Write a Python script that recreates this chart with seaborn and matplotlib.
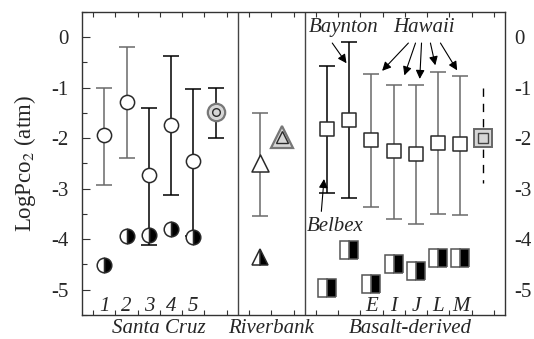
import numpy as np
import pandas as pd
import matplotlib
matplotlib.use("Agg")
import matplotlib.pyplot as plt
from matplotlib.ticker import MultipleLocator, FixedLocator, NullFormatter
from matplotlib.transforms import blended_transform_factory
import seaborn as sns

# ---------------- data ----------------
# Santa Cruz (soils 1-5) + average
sc_x = [1, 2, 3, 4, 5]
sc_labels = ["1", "2", "3", "4", "5"]
sc_mean = [-1.93, -1.28, -2.74, -1.74, -2.46]
sc_hi = [-1.00, -0.20, -1.41, -0.37, -1.03]
sc_lo = [-2.92, -2.39, -4.11, -3.12, -3.93]
sc_min = [-4.52, -3.93, -3.91, -3.80, -3.95]
sc_bar_dark = [False, False, True, True, True]
sc_avg_x, sc_avg, sc_avg_hi, sc_avg_lo = 6, -1.49, -1.00, -2.00

# Riverbank
rb_x = [8]
rb_mean = [-2.50]
rb_hi = [-1.51]
rb_lo = [-3.55]
rb_min = [-4.36]
rb_avg_x, rb_avg = 9, -1.97

# Basalt-derived
bd_x = [11, 12, 13, 14, 15, 16, 17]
bd_names = ["Belbex", "Baynton", "E", "I", "J", "L", "M"]
bd_mean = [-1.82, -1.64, -2.04, -2.26, -2.32, -2.09, -2.12]
bd_hi = [-0.57, -0.10, -0.74, -0.96, -0.96, -0.70, -0.78]
bd_lo = [-3.08, -3.19, -3.36, -3.60, -3.70, -3.50, -3.52]
bd_min = [-4.97, -4.21, -4.88, -4.49, -4.62, -4.37, -4.37]
bd_bar_dark = [True, True, False, False, False, False, False]
bd_avg_x, bd_avg, bd_avg_hi, bd_avg_lo = 18, -1.99, -1.00, -2.88

group_names = ["Santa Cruz", "Riverbank", "Basalt-derived"]
group_centers = [3.43, 8.51, 14.75]
separators = [7, 10]
y_ticks = [0, -1, -2, -3, -4, -5]

# ---------------- style ----------------
sns.set_theme(style="ticks")
plt.rcParams["font.family"] = ["Liberation Serif", "DejaVu Serif"]
plt.rcParams["mathtext.fontset"] = "stix"
plt.rcParams["axes.unicode_minus"] = False

EDGE = "#2a2a2a"
GRAY = "#6a6a6a"
LIGHT = "#d6d6d6"
FS = 15

fig = plt.figure(figsize=(5.34, 3.39), dpi=100)
ax = fig.add_axes([0.1536, 0.0708, 0.7921, 0.8947])
ax.set_xlim(0, 19)
ax.set_ylim(-5.5, 0.5)

cap = 5.5

def bars(xs, m, hi, lo, dark):
    for x, mm, h, l, d in zip(xs, m, hi, lo, dark):
        ax.errorbar([x], [mm], yerr=[[mm - l], [h - mm]], fmt="none",
                    ecolor=("black" if d else GRAY), elinewidth=1.1,
                    capsize=cap, capthick=1.1, zorder=2)

bars(sc_x, sc_mean, sc_hi, sc_lo, sc_bar_dark)
bars([sc_avg_x], [sc_avg], [sc_avg_hi], [sc_avg_lo], [True])
bars(rb_x, rb_mean, rb_hi, rb_lo, [False])
bars(bd_x, bd_mean, bd_hi, bd_lo, bd_bar_dark)
ax.plot([bd_avg_x, bd_avg_x], [bd_avg_hi, bd_avg_lo], color="black",
        lw=1.0, ls=(0, (6, 5)), zorder=2)

# open markers (means) via seaborn
df_c = pd.DataFrame({"x": sc_x, "y": sc_mean})
sns.scatterplot(data=df_c, x="x", y="y", marker="o", s=105, facecolor="white",
                edgecolor=EDGE, linewidth=1.1, zorder=4, ax=ax)
df_t = pd.DataFrame({"x": rb_x, "y": rb_mean})
sns.scatterplot(data=df_t, x="x", y="y", marker="^", s=150, facecolor="white",
                edgecolor=EDGE, linewidth=1.1, zorder=4, ax=ax)
df_s = pd.DataFrame({"x": bd_x, "y": bd_mean})
sns.scatterplot(data=df_s, x="x", y="y", marker="s", s=115, facecolor="white",
                edgecolor=EDGE, linewidth=1.1, zorder=4, ax=ax)

# half-filled minimum markers
ax.plot(sc_x, sc_min, ls="none", marker="o", ms=10.5, fillstyle="right",
        mfc="black", markerfacecoloralt="white", mec=EDGE, mew=1.1, zorder=5)
ax.plot(rb_x, rb_min, ls="none", marker="^", ms=12, fillstyle="right",
        mfc="black", markerfacecoloralt="white", mec=EDGE, mew=1.1, zorder=5)
ax.plot(bd_x, bd_min, ls="none", marker="s", ms=12.5, fillstyle="right",
        mfc="black", markerfacecoloralt="white", mec="#555555", mew=1.1,
        zorder=5)

# gray average markers
ax.plot([sc_avg_x], [sc_avg], marker="o", ms=12.5, mfc=LIGHT, mec="#777777",
        mew=1.6, ls="none", zorder=5)
ax.plot([sc_avg_x], [sc_avg], marker="o", ms=5.5, mfc="none", mec=EDGE,
        mew=1.0, ls="none", zorder=6)
ax.plot([rb_avg_x], [rb_avg], marker="^", ms=16, mfc=LIGHT, mec="#777777",
        mew=1.6, ls="none", zorder=5)
ax.plot([rb_avg_x], [rb_avg], marker="^", ms=8.5, mfc="none", mec=EDGE,
        mew=1.0, ls="none", zorder=6)
ax.plot([bd_avg_x], [bd_avg], marker="s", ms=13.5, mfc=LIGHT, mec="#666666",
        mew=1.4, ls="none", zorder=5)
ax.plot([bd_avg_x], [bd_avg], marker="s", ms=7.5, mfc="none", mec="#444444",
        mew=1.0, ls="none", zorder=6)

# separators
for s in separators:
    ax.axvline(s, color="#444444", lw=1.0, zorder=1)

# in-axes sample labels
for x, t in zip(sc_x, sc_labels):
    ax.text(x, -5.33, t, ha="center", va="center", style="italic", fontsize=FS)
for x, t in zip(bd_x[2:], bd_names[2:]):
    ax.text(x, -5.33, t, ha="center", va="center", style="italic", fontsize=FS)

# group labels below
trans = blended_transform_factory(ax.transData, ax.transAxes)
for x, t in zip(group_centers, group_names):
    ax.text(x, -0.045, t, transform=trans, ha="center", va="center",
            style="italic", fontsize=FS)

# annotations
ap = dict(arrowstyle="-|>", color="black", lw=0.8, mutation_scale=13,
          shrinkA=0, shrinkB=0)
ax.text(11.77, 0.19, "Baynton", ha="center", va="center", style="italic",
        fontsize=FS)
ax.annotate("", xy=(11.88, -0.52), xytext=(11.24, -0.12), arrowprops=ap)
ax.text(15.38, 0.19, "Hawaii", ha="center", va="center", style="italic",
        fontsize=FS)
for (x0, x1, y1) in [(14.66, 13.48, -0.67), (14.98, 14.48, -0.76),
                     (15.25, 15.17, -0.83), (15.65, 15.87, -0.56),
                     (16.10, 16.85, -0.66)]:
    ax.annotate("", xy=(x1, y1), xytext=(x0, -0.12), arrowprops=ap)
ax.text(11.38, -3.74, "Belbex", ha="center", va="center", style="italic",
        fontsize=FS)
ax.annotate("", xy=(10.87, -2.81), xytext=(10.75, -3.45), arrowprops=ap)

# axes styling
for sp in ax.spines.values():
    sp.set_color("#333333")
    sp.set_linewidth(1.0)
    sp.set_visible(True)

ax.set_xlabel("")
ax.set_ylabel(r"LogPco$_2$ (atm)", fontsize=16.5, labelpad=9)
ax.xaxis.set_major_locator(FixedLocator(np.arange(0.5, 19, 1.0)))
ax.xaxis.set_major_formatter(NullFormatter())
ax.tick_params(axis="x", which="major", direction="in", top=True, bottom=True,
               length=3.5, width=0.8, color="#333333")

ax.set_yticks(y_ticks)
ax.set_yticklabels([str(v) for v in y_ticks])
ax.yaxis.set_minor_locator(MultipleLocator(0.5))
ax.tick_params(axis="y", which="major", direction="in", left=True, right=True,
               length=6, width=0.8, color="#333333", labelsize=FS, pad=10)
ax.tick_params(axis="y", which="minor", direction="in", left=True, right=True,
               length=3.5, width=0.8, color="#333333")

ax2 = ax.twinx()
ax2.set_ylim(ax.get_ylim())
ax2.set_yticks(y_ticks)
ax2.set_yticklabels([str(v) for v in y_ticks])
ax2.tick_params(axis="y", which="major", direction="in", right=False,
                length=0, labelsize=FS, pad=7)
for sp in ax2.spines.values():
    sp.set_visible(False)

fig.savefig("out.png", dpi=100)
